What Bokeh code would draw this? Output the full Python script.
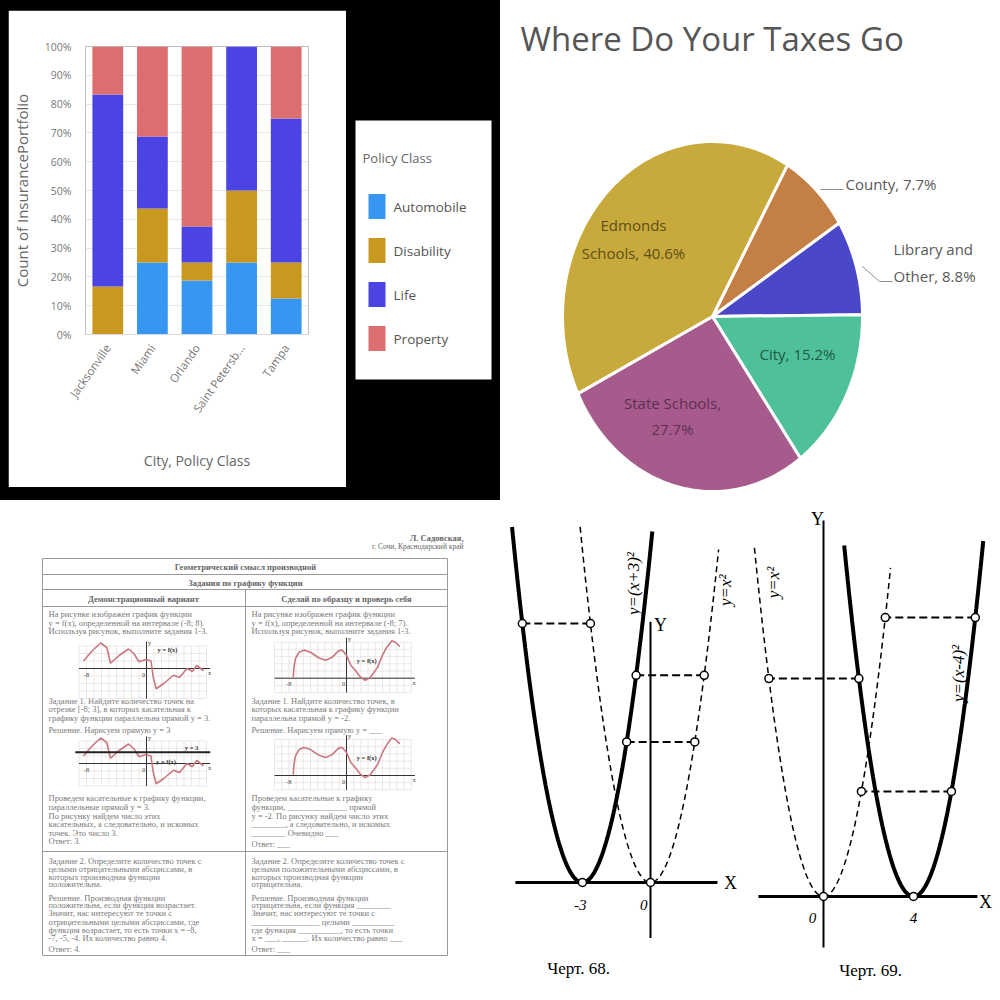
import numpy as np
from bokeh.plotting import figure
from bokeh.layouts import row, column
from bokeh.models import (Range1d, ColumnDataSource, NumeralTickFormatter, FixedTicker)
from bokeh.core.properties import value
from bokeh.embed import file_html
from bokeh.resources import INLINE

# ---------------- data ----------------
# Panel 1: stacked 100% bars
cities = ["Jacksonville", "Miami", "Orlando", "Saint Petersb...", "Tampa"]
policy_classes = ["Automobile", "Disability", "Life", "Property"]
automobile = [0.0, 0.25, 0.1875, 0.25, 0.125]
disability = [0.1667, 0.1875, 0.0625, 0.25, 0.125]
life = [0.6667, 0.25, 0.125, 0.50, 0.50]
property_ = [0.1666, 0.3125, 0.625, 0.0, 0.25]
pct_ticks = [0.0, 0.1, 0.2, 0.3, 0.4, 0.5, 0.6, 0.7, 0.8, 0.9, 1.0]

# Panel 2: pie
tax_names = ["County", "Library and Other", "City", "State Schools", "Edmonds Schools"]
tax_pct = [7.7, 8.8, 15.2, 27.7, 40.6]

# Panel 3: worksheet mini graphs (function values)
curve_a_x = [-8.4, -7.2, -6.1, -5.3, -4.8, -3.7, -2.4, -1.7, -1.0, -0.1, 0.6, 0.9, 1.3, 2.3, 3.6, 4.4, 5.4, 6.1, 6.7, 7.6]
curve_a_y = [1.0, 2.4, 3.4, 2.8, 0.7, 1.7, 2.6, 2.0, 0.9, 1.2, 1.0, -1.2, -2.7, -2.0, -0.9, -1.2, 0.0, -0.4, 0.4, -0.3]
curve_b_x = [-7.4, -7.3, -7.1, -6.6, -5.9, -5.0, -3.8, -2.9, -2.0, -1.1, -0.6, 0.0, 0.6, 1.3, 1.9, 2.6, 3.3, 4.3, 5.0, 5.6, 6.3, 6.8, 7.4]
curve_b_y = [0.1, 1.5, 2.7, 3.6, 3.9, 3.6, 2.8, 2.5, 2.9, 3.8, 3.9, 3.2, 1.8, 1.0, 0.2, -0.3, 0.1, 1.5, 3.2, 4.3, 5.2, 5.0, 4.4]
tangent_level = 1.5

# Panel 4: parabolas y=(x+3)^2, y=x^2, y=(x-4)^2
shift_68 = -3.0
shift_69 = 4.0
levels_68 = [7.0, 5.6, 3.8]
sides_68 = [-1, 1, 1]
levels_69 = [7.54, 5.89, 2.84]
sides_69 = [1, -1, 1]

# ---------------- styles ----------------
class_colors = ["#3797f0", "#c9981f", "#4b44e2", "#dd6e70"]
tax_colors = ["#c47f45", "#4a47c9", "#4fc19a", "#a65b8c", "#c8aa3c"]
SANS = "Open Sans"
SERIF = "Liberation Serif"

# ---------------- panel 1: bar chart ----------------
src = ColumnDataSource(dict(city=cities, Automobile=automobile, Disability=disability,
                            Life=life, Property=property_))
pb = figure(x_range=cities, y_range=Range1d(0, 1), width=338, height=477,
            output_backend="svg", toolbar_location=None,
            min_border_left=69, min_border_right=38, min_border_top=36, min_border_bottom=153,
            margin=(10, 0, 0, 8), outline_line_color=None, frame_align=False,
            background_fill_color="white", border_fill_color="white")
pb.vbar_stack(policy_classes, x="city", width=0.69, fill_color=class_colors,
              line_color=None, source=src)
pb.yaxis.ticker = FixedTicker(ticks=pct_ticks)
pb.yaxis.formatter = NumeralTickFormatter(format="0%")
pb.yaxis.axis_line_color = None
pb.yaxis.major_tick_line_color = None
pb.yaxis.minor_tick_line_color = None
pb.yaxis.major_label_standoff = 8
pb.yaxis.major_label_text_font = SANS
pb.yaxis.major_label_text_font_size = "10.5px"
pb.yaxis.major_label_text_color = "#777777"
pb.yaxis.axis_label = "Count of InsurancePortfolio"
pb.yaxis.axis_label_text_font = SANS
pb.yaxis.axis_label_text_font_size = "15px"
pb.yaxis.axis_label_text_font_style = "normal"
pb.yaxis.axis_label_text_color = "#666666"
pb.yaxis.axis_label_standoff = 10
pb.xaxis.axis_line_color = "#d9d9d9"
pb.xaxis.major_tick_line_color = None
pb.xaxis.minor_tick_line_color = None
pb.xaxis.major_label_orientation = 0.96
pb.xaxis.major_label_text_font = SANS
pb.xaxis.major_label_text_font_size = "11.5px"
pb.xaxis.major_label_text_color = "#777777"
pb.xaxis.axis_label = "City, Policy Class"
pb.xaxis.axis_label_text_font = SANS
pb.xaxis.axis_label_text_font_size = "14px"
pb.xaxis.axis_label_text_font_style = "normal"
pb.xaxis.axis_label_text_color = "#666666"
pb.xaxis.axis_label_standoff = 28
pb.xgrid.grid_line_color = None
pb.ygrid.grid_line_color = "#e6e6e6"

# legend panel: black strip with the white legend box, pixel-like coordinates
pl = figure(width=154, height=500, x_range=Range1d(346, 500), y_range=Range1d(500, 0),
            x_axis_location=None, y_axis_location=None, min_border=0, frame_align=False,
            output_backend="svg", toolbar_location=None, outline_line_color=None,
            border_fill_color="black", background_fill_color="black")
pl.grid.visible = False
pl.quad(left=[355], right=[491], top=[120], bottom=[379], fill_color="white", line_color=None)
leg_y = [206 + 44 * i for i in range(len(policy_classes))]
pl.rect(x=[376.5] * len(policy_classes), y=leg_y, width=17, height=25,
        fill_color=class_colors, line_color=None)
pl.text(x=[393] * len(policy_classes), y=leg_y, text=policy_classes, text_font=value(SANS),
        text_font_size="13.5px", text_color="#555555", text_align="left", text_baseline="middle")
pl.text(x=[362], y=[157], text=["Policy Class"], text_font=value(SANS),
        text_font_size="13px", text_color="#666666", text_align="left", text_baseline="middle")

top_left = row(pb, pl, width=500, height=500, sizing_mode="fixed",
               styles={"background-color": "black"})

# ---------------- panel 2: pie ----------------
pp = figure(width=500, height=500, x_range=Range1d(500, 1000), y_range=Range1d(500, 0),
            x_axis_location=None, y_axis_location=None, min_border=0, frame_align=False,
            outline_line_color=None, toolbar_location=None, output_backend="svg",
            background_fill_color="white", border_fill_color="white")
pp.grid.visible = False
cx, cy, rx, ry = 712, 316, 150, 175
start_deg = 60.0
xs, ys = [], []
acc = 0.0
for pct in tax_pct:
    a0 = start_deg - acc * 3.6
    a1 = a0 - pct * 3.6
    t = np.radians(np.linspace(a0, a1, 80))
    xs.append(list(np.concatenate([[cx], cx + rx * np.cos(t)])))
    ys.append(list(np.concatenate([[cy], cy - ry * np.sin(t)])))
    acc += pct
pp.patches(xs, ys, fill_color=tax_colors, line_color="white", line_width=3)

pp.text(x=[520], y=[38], text=["Where Do Your Taxes Go"], text_font=value(SANS),
        text_font_size="33px", text_color="#555555", text_baseline="middle", text_align="left")
lab = dict(
    x=[633, 633, 672, 672, 797],
    y=[224, 252, 402, 428, 353],
    t=["Edmonds", f"Schools, {tax_pct[4]}%", "State Schools,", f"{tax_pct[3]}%", f"City, {tax_pct[2]}%"],
    c=["#5e4f17", "#5e4f17", "#5e2f52", "#5e2f52", "#1d5a45"],
)
pp.text(x=lab["x"], y=lab["y"], text=lab["t"], text_color=lab["c"], text_font=value(SANS),
        text_font_size="15px", text_align="center", text_baseline="middle")
pp.text(x=[845, 893, 893], y=[183, 248, 275],
        text=[f"County, {tax_pct[0]}%", "Library and", f"Other, {tax_pct[1]}%"],
        text_color="#595959", text_font=value(SANS), text_font_size="15px",
        text_align="left", text_baseline="middle")
pp.multi_line(xs=[[820, 843], [862, 879, 892]], ys=[[189, 189], [266, 281, 281]],
              line_color="#8c8c8c", line_width=1)

# ---------------- panel 3: worksheet ----------------
ps = figure(width=500, height=500, x_range=Range1d(0, 500), y_range=Range1d(1000, 500),
            x_axis_location=None, y_axis_location=None, min_border=0, frame_align=False,
            outline_line_color=None, toolbar_location=None, output_backend="svg",
            background_fill_color="white", border_fill_color="white")
ps.grid.visible = False
LX0, LX1, MID = 42, 447, 245
hl = [558, 574, 589, 606, 851, 955]
ps.segment(x0=[LX0] * len(hl), x1=[LX1] * len(hl), y0=hl, y1=hl, line_color="#9a9a9a", line_width=1)
ps.segment(x0=[LX0, LX1, MID], x1=[LX0, LX1, MID], y0=[558, 558, 589], y1=[955, 955, 955],
           line_color="#9a9a9a", line_width=1)
ps.text(x=[463, 463], y=[537, 546], text=["Л. Садовская,", "г. Сочи, Краснодарский край"],
        text_align="right", text_baseline="middle", text_font=value(SERIF),
        text_font_size=["8.5px", "7.5px"], text_font_style=["bold", "normal"], text_color="#666666")
ps.text(x=[245, 245, 143, 346], y=[566, 582, 598, 598],
        text=["Геометрический смысл производной", "Задания по графику функции",
              "Демонстрационный вариант", "Сделай по образцу и проверь себя"],
        text_align="center", text_baseline="middle", text_font=value(SERIF),
        text_font_size="8.5px", text_font_style="bold", text_color="#666666")
left_lines = [
    (613, "На рисунке изображен график функции"),
    (622, "y = f(x), определенной на интервале (-8; 8)."),
    (630, "Используя рисунок, выполните задания 1-3."),
    (700, "Задание 1. Найдите количество точек на"),
    (708, "отрезке [-8; 3], в которых касательная к"),
    (717, "графику функции параллельна прямой y = 3."),
    (729, "Решение. Нарисуем прямую y = 3"),
    (797, "Проведем касательные к графику функции,"),
    (806, "параллельные прямой y = 3."),
    (815, "По рисунку найдем число этих"),
    (823, "касательных, а следовательно, и искомых"),
    (832, "точек. Это число 3."),
    (840, "Ответ: 3."),
    (860, "Задание 2. Определите количество точек с"),
    (868, "целыми отрицательными абсциссами, в"),
    (876, "которых производная функции"),
    (883, "положительна."),
    (897, "Решение. Производная функции"),
    (904, "положительна, если функция возрастает."),
    (912, "Значит, нас интересуют те точки с"),
    (921, "отрицательными целыми абсциссами, где"),
    (929, "функция возрастает, то есть точки x = -8,"),
    (937, "-7, -5, -4. Их количество равно 4."),
    (948, "Ответ: 4."),
]
right_lines = [
    (613, "На рисунке изображен график функции"),
    (622, "y = f(x), определенной на интервале (-8; 7)."),
    (630, "Используя рисунок, выполните задания 1-3."),
    (700, "Задание 1. Найдите количество точек, в"),
    (708, "которых касательная к графику функции"),
    (717, "параллельна прямой y = -2."),
    (729, "Решение. Нарисуем прямую y = ___"),
    (797, "Проведем касательные к графику"),
    (806, "функции, ______________ прямой"),
    (815, "y = -2. По рисунку найдем число этих"),
    (823, "________, а следовательно, и искомых"),
    (832, "________ Очевидно ___"),
    (843, "Ответ: ___"),
    (860, "Задание 2. Определите количество точек с"),
    (868, "целыми положительными абсциссами, в"),
    (876, "которых производная функции"),
    (883, "отрицательна."),
    (897, "Решение. Производная функции"),
    (904, "отрицательна, если функция ________"),
    (912, "Значит, нас интересуют те точки с"),
    (921, "________________ целыми __________"),
    (929, "где функция __________, то есть точки"),
    (937, "x = ___, ______. Их количество равно ___"),
    (948, "Ответ: ___"),
]
for x0, lines in ((48, left_lines), (251, right_lines)):
    ps.text(x=[x0] * len(lines), y=[l[0] for l in lines], text=[l[1] for l in lines],
            text_align="left", text_baseline="middle", text_font=value(SERIF),
            text_font_size="8.5px", text_color="#7a7a7a")

mini_specs = [
    (146, 668.0, 7.5, curve_a_x, curve_a_y, (-9, 8, -4, 3), False),
    (146, 763.0, 7.5, curve_a_x, curve_a_y, (-9, 8, -3, 3), True),
    (346, 677.7, 7.2, curve_b_x, curve_b_y, (-10, 9, -2, 5), False),
    (346, 775.0, 7.2, curve_b_x, curve_b_y, (-10, 9, -2, 5), False),
]
for ox, oy, s, cxs, cys, (g0, g1, h0, h1), with_line in mini_specs:
    gx = list(range(g0, g1 + 1))
    gy = list(range(h0, h1 + 1))
    ps.segment(x0=[ox + s * v for v in gx], x1=[ox + s * v for v in gx],
               y0=[oy - s * h0] * len(gx), y1=[oy - s * h1] * len(gx),
               line_color="#e6dcdc", line_width=0.7)
    ps.segment(x0=[ox + s * g0] * len(gy), x1=[ox + s * g1] * len(gy),
               y0=[oy - s * v for v in gy], y1=[oy - s * v for v in gy],
               line_color="#e6dcdc", line_width=0.7)
    ps.segment(x0=[ox + s * g0, ox], x1=[ox + s * (g1 + 0.5), ox],
               y0=[oy, oy - s * h0], y1=[oy, oy - s * (h1 + 0.6)],
               line_color="#333333", line_width=1)
    ps.line(x=[ox + s * v for v in cxs], y=[oy - s * v for v in cys],
            line_color="#c9787f", line_width=1.6)
    ps.text(x=[ox + s * (g1 + 0.4), ox + 3, ox - s * 8, ox - 3],
            y=[oy + 4, oy - s * (h1 + 0.5), oy + 6, oy + 6],
            text=["x", "y", "-8", "0"], text_font=value(SERIF), text_font_size="6.5px",
            text_align="center", text_baseline="middle", text_color="#444444")
    if with_line:
        ps.line(x=[ox + s * (g0 - 0.5), ox + s * (g1 + 0.5)],
                y=[oy - s * tangent_level] * 2, line_color="#222222", line_width=2)
        ps.text(x=[ox + s * 6.0, ox + s * 2.6], y=[oy - s * (tangent_level + 0.6), oy - s * 0.3],
                text=["y = 3", "y = f(x)"], text_font=value(SERIF), text_font_size="6.5px",
                text_font_style="bold", text_align="center", text_baseline="middle",
                text_color="#333333")
    else:
        ps.text(x=[ox + s * 2.8], y=[oy - s * 2.5], text=["y = f(x)"],
                text_font=value(SERIF), text_font_size="6.5px", text_font_style="bold",
                text_align="center", text_baseline="middle", text_color="#333333")

# ---------------- panel 4: parabolas ----------------
def parabola_fig(width, xr, yr, shift, levels, sides, sol_lo, sol_hi, das_lo, das_hi,
                 xaxis_span, yaxis_span):
    p = figure(width=width, height=500, x_range=Range1d(*xr), y_range=Range1d(*yr),
               x_axis_location=None, y_axis_location=None, min_border=0, frame_align=False,
               outline_line_color=None, toolbar_location=None, output_backend="svg",
               background_fill_color="white", border_fill_color="white")
    p.grid.visible = False
    p.line(x=list(xaxis_span), y=[0, 0], line_color="black", line_width=3)
    p.line(x=[0, 0], y=list(yaxis_span), line_color="black", line_width=2)
    xd = np.linspace(das_lo, das_hi, 120)
    p.line(x=xd, y=xd ** 2, line_color="black", line_width=1.5, line_dash="6 4")
    xsol = np.linspace(sol_lo, sol_hi, 160)
    p.line(x=xsol, y=(xsol - shift) ** 2, line_color="black", line_width=4)
    xd_pts = [sd * np.sqrt(lv) for lv, sd in zip(levels, sides)]
    xs_pts = [shift + sd * np.sqrt(lv) for lv, sd in zip(levels, sides)]
    p.segment(x0=xs_pts, x1=xd_pts, y0=levels, y1=levels, line_color="black",
              line_width=2, line_dash="8 4")
    p.scatter(x=xs_pts + xd_pts + [0, shift], y=levels + levels + [0, 0], marker="circle",
              size=8, fill_color="white", line_color="black", line_width=1.5)
    return p

f68 = parabola_fig(245, ((500 - 650) / 22.7, (745 - 650) / 22.7), ((882 - 1000) / 37, (882 - 500) / 37),
                   shift_68, levels_68, sides_68, -6.1, 0.08, -3.1, 3.0, (-5.95, 2.95), (-1.5, 7.05))
f68.text(x=[3.52, 0.44], y=[0.0, 6.95], text=["X", "Y"], text_font=value(SERIF),
         text_font_size="18px", text_align="center", text_baseline="middle", text_color="black")
f68.text(x=[-3.1, -0.3], y=[-0.62, -0.62], text=["-3", "0"], text_font=value(SERIF),
         text_font_size="15px", text_font_style="italic", text_align="center",
         text_baseline="middle", text_color="black")
f68.text(x=[-0.75, 3.3], y=[8.08, 7.9], text=["y=(x+3)²", "y=x²"], angle=np.pi / 2,
         text_font=value(SERIF), text_font_size="17px", text_font_style="italic",
         text_align="center", text_baseline="middle", text_color="black")
f68.text(x=[-3.17], y=[-2.32], text=["Черт. 68."], text_font=value(SERIF),
         text_font_size="17px", text_align="center", text_baseline="middle", text_color="black")

f69 = parabola_fig(255, ((745 - 823) / 22.5, (1000 - 823) / 22.5), ((896 - 1000) / 37, (896 - 500) / 37),
                   shift_69, levels_69, sides_69, 0.92, 7.1, -3.07, 2.98, (-2.89, 6.84), (-1.38, 10.16))
f69.text(x=[7.2, -0.27], y=[-0.16, 10.2], text=["X", "Y"], text_font=value(SERIF),
         text_font_size="18px", text_align="center", text_baseline="middle", text_color="black")
f69.text(x=[-0.49, 4.0], y=[-0.57, -0.57], text=["0", "4"], text_font=value(SERIF),
         text_font_size="15px", text_font_style="italic", text_align="center",
         text_baseline="middle", text_color="black")
f69.text(x=[-2.22, 6.0], y=[8.49, 6.03], text=["y=x²", "y=(x-4)²"], angle=np.pi / 2,
         text_font=value(SERIF), text_font_size="17px", text_font_style="italic",
         text_align="center", text_baseline="middle", text_color="black")
f69.text(x=[2.09], y=[-2.0], text=["Черт. 69."], text_font=value(SERIF),
         text_font_size="17px", text_align="center", text_baseline="middle", text_color="black")

layout = column(row(top_left, pp), row(ps, f68, f69))
open("out.html", "w").write(file_html(layout, INLINE))
